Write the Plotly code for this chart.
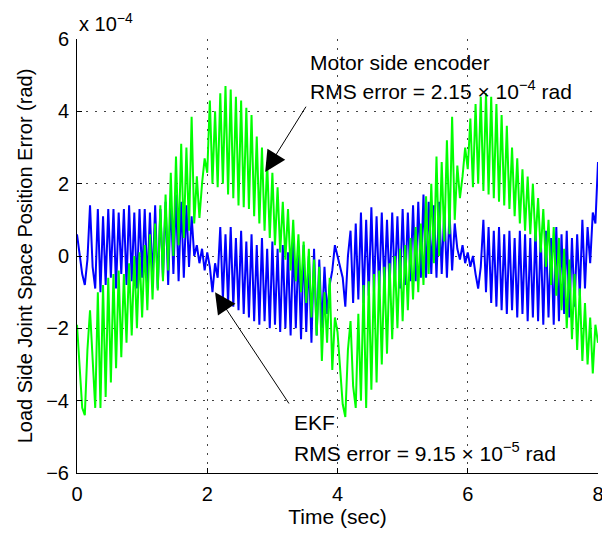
import plotly.graph_objects as go

# sample step of the logged signals (sec)
dt = 0.04

# position errors in units of 1e-4 rad
motor_err = [
    -1.9, -3.2, -4.2, -4.4, -2.6, -1.5, -3.0, -4.2, -1.0, -4.2,
    -0.8, -3.9, -0.6, -3.5, -0.5, -3.1, -0.4, -2.8, -0.5, -2.4,
    -0.2, -2.2, 0.0, -2.0, 0.1, -1.7, 0.3, -1.5, 0.6, -1.2,
    0.9, -0.95, 1.4, -0.7, 1.7, -0.4, 2.3, 0.0, 2.75, 0.3,
    3.1, 0.5, 3.0, 0.7, 3.85, 0.9, 2.2, 1.05, 2.0, 2.7,
    2.3, 4.3, 2.0, 4.0, 1.9, 4.5, 2.0, 4.7, 1.7, 4.6,
    1.6, 4.4, 1.4, 4.3, 1.35, 4.1, 1.3, 3.9, 1.1, 3.3,
    0.9, 3.0, 0.7, 2.6, 0.5, 2.3, 0.3, 1.9, 0.1, 1.5,
    -0.1, 1.3, -0.4, 1.0, -0.7, 0.6, -1.0, 0.4, -1.3, 0.2,
    -1.7, -0.1, -2.2, -0.3, -2.9, -1.0, -2.4, -0.6, -3.15, -1.7,
    -2.1, -3.0, -4.1, -4.45, -2.6, -1.8, -3.6, -4.2, -1.6, -4.0,
    -0.8, -4.2, -0.7, -3.7, -0.5, -3.5, -0.4, -3.0, -0.3, -2.7,
    -0.2, -2.3, 0.0, -2.0, 0.2, -1.8, 0.3, -1.5, 0.5, -1.2,
    0.8, -1.0, 0.9, -0.8, 1.65, -0.5, 2.0, -0.2, 2.75, 0.0,
    2.6, 0.4, 3.2, 0.6, 3.85, 1.0, 2.5, 1.6, 2.2, 3.0,
    2.4, 3.8, 1.9, 4.2, 2.0, 4.4, 1.8, 4.5, 1.7, 4.4,
    1.6, 4.2, 1.5, 3.9, 1.4, 3.6, 1.3, 3.0, 1.1, 2.7,
    0.9, 2.4, 0.7, 2.2, 0.6, 2.0, 0.4, 1.6, 0.1, 1.3,
    -0.3, 1.0, -0.8, 0.8, -1.1, 0.5, -1.5, 0.2, -2.0, -0.1,
    -2.3, -0.5, -2.6, -0.9, -2.9, -1.3, -3.0, -1.7, -3.25, -1.9,
    -2.4,
]

ekf_err = [
    0.6, 0.1, -0.5, -0.8, -0.1, 1.4, -0.3, -0.9, 1.3, -1.0,
    1.1, -0.8, 1.3, -0.6, 1.3, -0.9, 1.2, -0.5, 1.3, -0.8,
    1.4, -0.7, 1.2, -0.9, 1.3, -0.6, 1.3, -0.8, 1.2, -0.7,
    1.4, -0.9, 1.3, -0.6, 1.5, -0.8, 1.6, -0.5, 1.7, -0.7,
    1.5, -0.6, 1.4, -0.3, 1.1, 0.0, 0.3, -0.2, 0.2, -0.4,
    0.1, -0.3, -1.0, -0.2, -0.6, 0.8, -1.2, 0.6, -1.3, 0.8,
    -1.4, 0.5, -1.5, 0.7, -1.6, 0.4, -1.7, 0.6, -1.8, 0.3,
    -1.9, 0.5, -1.8, 0.2, -2.0, 0.4, -1.9, 0.2, -2.1, 0.3,
    -2.0, 0.1, -2.2, 0.4, -2.0, 0.2, -2.3, 0.3, -2.1, 0.0,
    -2.4, 0.2, -2.2, -0.1, -2.0, -0.3, -1.6, -0.8, -0.4, 0.3,
    0.0, -0.3, -0.6, -1.4, 0.0, 0.7, -1.3, 0.9, -1.2, 1.2,
    -1.3, 1.0, -1.1, 1.35, -1.0, 1.1, -1.0, 1.2, -0.9, 1.0,
    -0.9, 1.2, -0.8, 1.1, -0.9, 1.3, -0.8, 1.2, -0.7, 1.4,
    -0.7, 1.5, -0.6, 1.7, -0.6, 1.5, -0.5, 1.4, -0.6, 1.5,
    -0.5, 1.3, -0.6, 1.2, -0.4, 0.9, 0.2, -0.1, 0.3, -0.2,
    0.1, -0.3, 0.0, -0.5, -0.9, -0.3, 1.0, -1.0, 0.8, -1.3,
    0.7, -1.4, 0.8, -1.5, 0.6, -1.6, 0.7, -1.5, 0.5, -1.7,
    0.7, -1.6, 0.6, -1.8, 0.5, -1.7, 0.8, -1.8, 0.6, -1.9,
    0.7, -1.7, 0.5, -1.9, 0.8, -1.8, 0.6, -1.6, 0.7, -1.7,
    0.5, -1.4, 0.6, -1.1, 1.0, -0.9, 0.8, -0.2, 1.2, 0.9,
    2.6,
]

x_ticks = [0, 2, 4, 6, 8]
y_ticks = [-6, -4, -2, 0, 2, 4, 6]

FONT = "Liberation Sans, Arial, sans-serif"

fig = go.Figure()
fig.add_trace(go.Scatter(y=ekf_err, x0=0, dx=dt, mode="lines",
                         line=dict(color="#0000FF", width=2), name="EKF"))
fig.add_trace(go.Scatter(y=motor_err, x0=0, dx=dt, mode="lines",
                         line=dict(color="#00FF00", width=2), name="Motor side encoder"))

axis_common = dict(
    showline=True, linecolor="black", linewidth=1,
    ticks="inside", ticklen=5, tickcolor="black",
    showgrid=True, gridcolor="#444444", gridwidth=1, griddash="2px,7px",
    zeroline=False, automargin=False,
    tickfont=dict(size=20, color="black"),
)

fig.update_xaxes(range=[0, 8], tickvals=x_ticks, ticklabelstandoff=3,
                 title=dict(text="Time (sec)", font=dict(size=21, color="black"), standoff=4),
                 **axis_common)
fig.update_yaxes(range=[-6, 6], tickvals=y_ticks, ticklabelstandoff=3,
                 title=dict(text="Load Side Joint Space Position Error (rad)",
                            font=dict(size=20, color="black"), standoff=8),
                 **axis_common)

txt = dict(size=21, color="black", family=FONT)
# the page body adds an 8px margin, so the figure is 8px smaller on each side
fig.update_layout(
    width=602, height=525,
    margin=dict(l=69, r=12, t=31, b=60),
    plot_bgcolor="white", paper_bgcolor="white",
    font=dict(family=FONT, color="black"),
    showlegend=False,
    annotations=[
        dict(xref="paper", yref="paper", x=0, y=1, xanchor="left", yanchor="bottom",
             yshift=2, text="x 10<sup>\u22124</sup>", showarrow=False,
             font=dict(size=20, color="black", family=FONT)),
        dict(x=3.55, y=5.36, xanchor="left", text="Motor side encoder",
             showarrow=False, font=txt),
        dict(x=3.55, y=4.59, xanchor="left",
             text="RMS error = 2.15 \u00d7 10<sup>\u22124</sup> rad",
             showarrow=False, font=txt),
        dict(x=3.30, y=-4.59, xanchor="left", text="EKF", showarrow=False, font=txt),
        dict(x=3.30, y=-5.42, xanchor="left",
             text="RMS error = 9.15 \u00d7 10<sup>\u22125</sup> rad",
             showarrow=False, font=txt),
        dict(x=2.89, y=2.32, ax=3.53, ay=4.17, axref="x", ayref="y", text="",
             showarrow=True, arrowhead=2, arrowsize=4.2, arrowwidth=1, arrowcolor="black"),
        dict(x=2.12, y=-1.0, ax=3.27, ay=-4.12, axref="x", ayref="y", text="",
             showarrow=True, arrowhead=2, arrowsize=4.2, arrowwidth=1, arrowcolor="black"),
    ],
)

fig.write_html("out.html")
